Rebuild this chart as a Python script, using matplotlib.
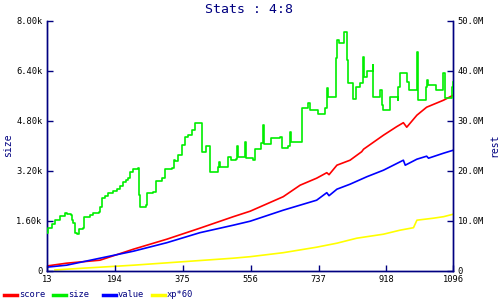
import matplotlib
matplotlib.use("Agg")
from matplotlib import pyplot as plt
from matplotlib.lines import Line2D

# size series (left axis), step data
size_x = [13, 17, 26, 35, 48, 62, 66, 77, 80, 84, 88, 93, 100, 109, 113, 128, 137, 153, 155,
          160, 168, 177, 189, 199, 208, 215, 224, 230, 235, 244, 257, 259, 262, 278, 279, 297,
          304, 319, 328, 346, 353, 355, 364, 373, 381, 390, 399, 408, 421, 426, 437, 448, 470,
          473, 475, 497, 504, 517, 519, 523, 541, 543, 563, 567, 585, 589, 593, 611, 634, 640,
          655, 661, 663, 692, 709, 714, 736, 755, 759, 763, 784, 787, 792, 806, 812, 816, 830,
          837, 848, 855, 859, 866, 882, 883, 901, 906, 910, 928, 949, 950, 955, 973, 977, 1000,
          1003, 1023, 1025, 1029, 1050, 1069, 1074, 1092, 1094, 1096]
size_y = [1216, 1357, 1485, 1622, 1750, 1856, 1805, 1780, 1622, 1517, 1197, 1165, 1325, 1357,
          1728, 1782, 1856, 1888, 2048, 2317, 2390, 2477, 2550, 2605, 2710, 2848, 2902, 2957,
          3168, 3264, 3277, 2422, 2048, 2093, 2477, 2528, 2880, 2957, 3245, 3277, 3542, 3510,
          3702, 4022, 4288, 4342, 4502, 4736, 4736, 3808, 4000, 3168, 3328, 3488, 3328, 3629,
          3542, 3560, 3990, 3648, 4128, 3597, 3542, 3885, 4077, 4662, 4054, 4237, 4269, 3917,
          4000, 4448, 4128, 5197, 5357, 5142, 5014, 5197, 5837, 5568, 6797, 7382, 7277, 7648,
          6742, 5997, 5485, 5869, 5997, 6848, 6208, 6400, 6582, 5568, 5782, 5302, 5142, 5568,
          5462, 5888, 6317, 6048, 5782, 7008, 5462, 5888, 6102, 5950, 5782, 6317, 5517, 5888,
          6048, 6048]

# right axis series, in M
score_x = [13, 66, 155, 244, 333, 421, 510, 555, 643, 688, 732, 759, 765, 786, 821, 852, 857,
           910, 945, 963, 972, 999, 1025, 1070, 1088, 1096]
score_y = [0.94, 1.5, 2.1, 4.3, 6.3, 8.5, 10.8, 11.9, 14.8, 17.1, 18.5, 19.6, 19.2, 21.1, 22.1,
           23.8, 24.3, 27.1, 28.8, 29.6, 28.7, 31.1, 32.7, 34.1, 34.8, 35.1]

value_x = [13, 66, 155, 244, 333, 421, 510, 555, 643, 732, 759, 765, 786, 821, 866, 910, 963,
           968, 999, 1025, 1030, 1070, 1096]
value_y = [0.7, 1.1, 2.5, 3.9, 5.6, 7.6, 9.1, 9.9, 12.1, 14.1, 15.6, 15.0, 16.3, 17.3, 18.8,
           20.1, 22.1, 21.1, 22.3, 22.9, 22.5, 23.5, 24.1]

xp_x = [35, 110, 244, 377, 510, 555, 643, 732, 786, 839, 910, 954, 990, 999, 1043, 1070, 1096]
xp_y = [0.15, 0.5, 1.1, 1.8, 2.5, 2.8, 3.6, 4.7, 5.5, 6.5, 7.3, 8.1, 8.6, 10.1, 10.5, 10.8, 11.3]

x_ticks = [13, 194, 375, 556, 737, 918, 1096]
left_ticks = [0, 1600, 3200, 4800, 6400, 8000]
left_labels = ["0", "1.60k", "3.20k", "4.80k", "6.40k", "8.00k"]
right_ticks = [0, 10, 20, 30, 40, 50]
right_labels = ["0", "10.0M", "20.0M", "30.0M", "40.0M", "50.0M"]

navy = "#000080"
mono = "DejaVu Sans Mono"
lw = 1.2

fig = plt.figure(figsize=(5, 3), dpi=100)
ax = fig.add_axes([0.0934, 0.0977, 0.8132, 0.8333])
ax2 = ax.twinx()

ax.plot(size_x, size_y, color="#00ee00", lw=lw, drawstyle="steps-post", zorder=3)
ax2.plot(score_x, score_y, color="#ff0000", lw=lw)
ax2.plot(value_x, value_y, color="#0000ff", lw=lw)
ax2.plot(xp_x, xp_y, color="#ffff00", lw=lw)

ax.set_zorder(2)
ax.patch.set_visible(False)

ax.set_xlim(13, 1096)
ax.set_ylim(0, 8000)
ax2.set_ylim(0, 50)

ax.set_xticks(x_ticks)
ax.set_xticklabels([str(t) for t in x_ticks], family=mono, fontsize=6.3)
ax.set_yticks(left_ticks)
ax.set_yticklabels(left_labels, family=mono, fontsize=6.3)
ax2.set_yticks(right_ticks)
ax2.set_yticklabels(right_labels, family=mono, fontsize=6.3)

for a in (ax, ax2):
    for s in a.spines.values():
        s.set_color(navy)
        s.set_linewidth(1.0)
    a.spines["top"].set_visible(False)
    a.tick_params(direction="in", length=4, width=1, color=navy, labelcolor="black", pad=3)

ax.set_ylabel("size", family=mono, fontsize=7, color=navy, labelpad=2)
ax2.set_ylabel("rest", family=mono, fontsize=7, color=navy, rotation=90, labelpad=4)

fig.text(0.498, 0.968, "Stats : 4:8", family=mono, fontsize=9.5, color=navy,
         ha="center", va="center")

# legend along the bottom
legend_names = ["score", "size", "value", "xp*60"]
legend_colors = ["#ff0000", "#00ee00", "#0000ff", "#ffff00"]
for i, (name, c) in enumerate(zip(legend_names, legend_colors)):
    x0 = (4 + i * 49.3) / 500
    fig.add_artist(Line2D([x0, x0 + 13 / 500], [0.0167, 0.0167], color=c, lw=2.5,
                          transform=fig.transFigure))
    fig.text(x0 + 15 / 500, 0.0167, name, family=mono, fontsize=6.3, color=navy,
             ha="left", va="center")

fig.savefig("out.png", dpi=100)
